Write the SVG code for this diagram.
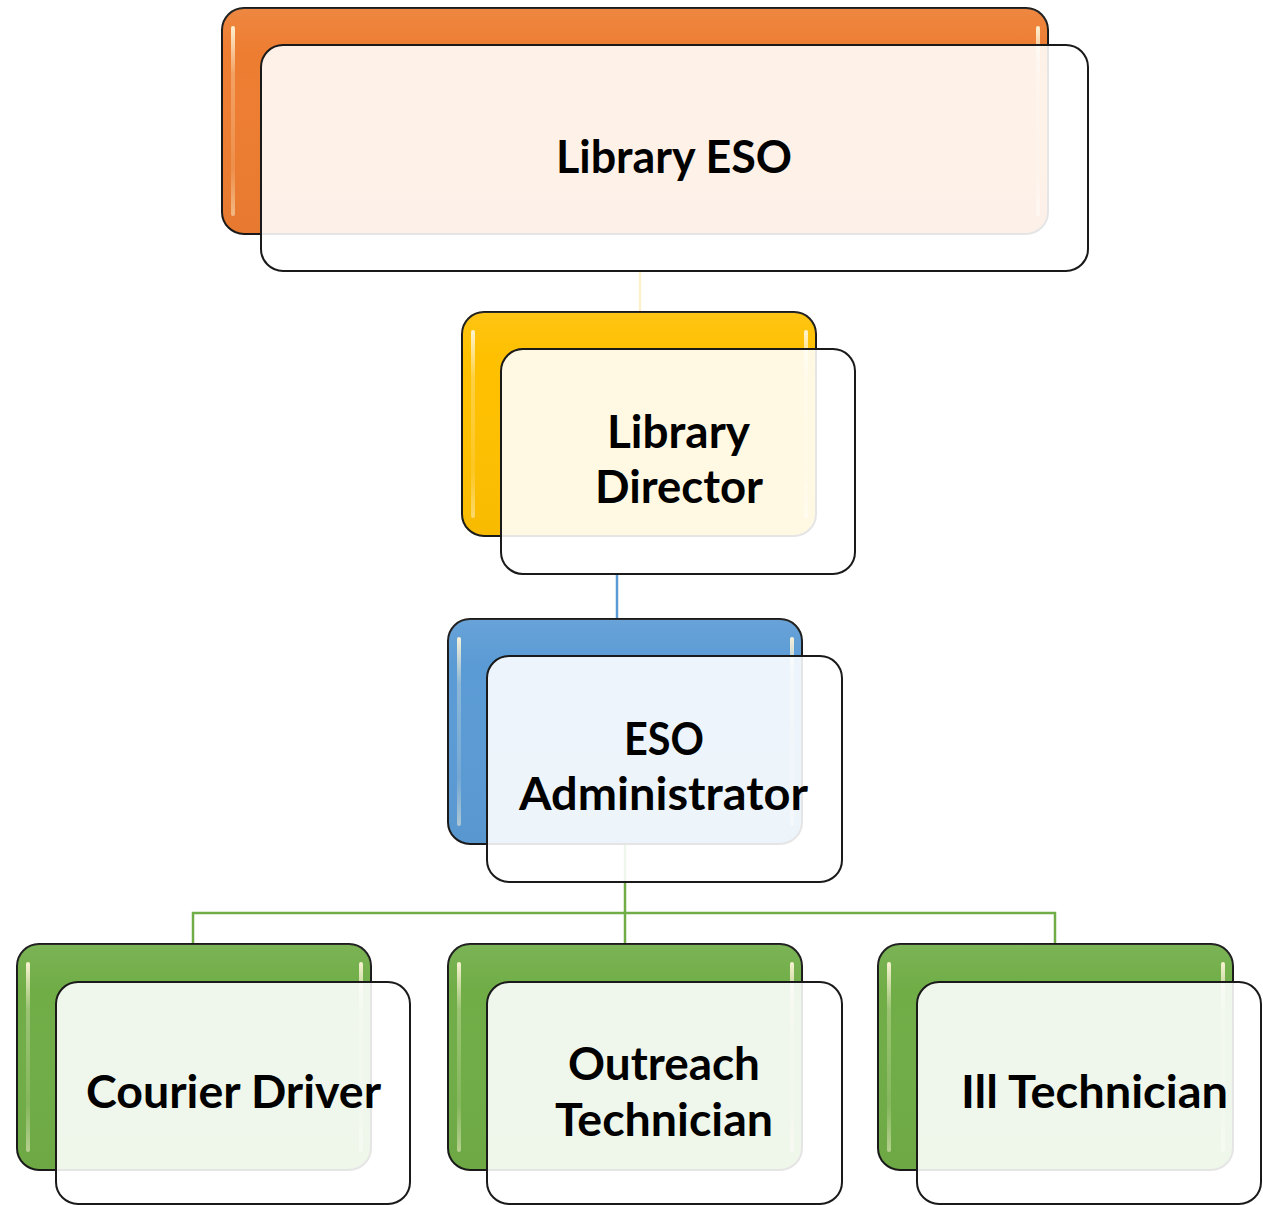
<svg xmlns="http://www.w3.org/2000/svg" width="1263" height="1205" viewBox="0 0 1263 1205">
  <defs>
    <linearGradient id="gloss" x1="0" y1="0" x2="0" y2="1">
      <stop offset="0" stop-color="#fff6d8" stop-opacity="0.95"/>
      <stop offset="0.25" stop-color="#fff6d8" stop-opacity="0.3"/>
      <stop offset="0.75" stop-color="#fff6d8" stop-opacity="0.15"/>
      <stop offset="1" stop-color="#fff6d8" stop-opacity="0.5"/>
    </linearGradient>
    <linearGradient id="shade" x1="0" y1="0" x2="0" y2="1">
      <stop offset="0" stop-color="#ffffff" stop-opacity="0.08"/>
      <stop offset="0.2" stop-color="#ffffff" stop-opacity="0"/>
      <stop offset="1" stop-color="#000000" stop-opacity="0.03"/>
    </linearGradient>
  </defs>
  <style>
    .back { stroke: #1a1a1a; stroke-width: 2; }
    .sheen { fill: url(#shade); stroke: none; }
    .front { fill: #ffffff; fill-opacity: 0.89; stroke: #1a1a1a; stroke-width: 2; }
    .hl { fill: url(#gloss); stroke: none; }
    .lbl { font-family: Lato, "Liberation Sans", sans-serif; font-weight: 700; font-size: 45px; fill: #000000; text-anchor: middle; }
    .conn { fill: none; stroke-width: 2.5; }
  </style>

  <rect width="1263" height="1205" fill="#ffffff"/>

  <!-- connectors sit beneath the boxes -->
  <g id="connectors">
    <line class="conn" x1="640" y1="271" x2="640" y2="312" stroke="#fdf0cc"/>
    <line class="conn" x1="617" y1="575" x2="617" y2="619" stroke="#5b9bd5"/>
    <path class="conn" d="M625 844 V944 M193 944 V913 H1055 V944" stroke="#70ad47"/>
  </g>

  <g id="node-library-eso">
    <rect class="back" x="222" y="8" width="826" height="226" rx="22" fill="#ed7d31"/>
    <rect class="sheen" x="222" y="8" width="826" height="226" rx="22"/>
    <rect class="hl" x="231" y="26" width="4" height="190" rx="2"/>
    <rect class="hl" x="1036" y="26" width="4" height="190" rx="2"/>
    <rect class="front" x="261" y="45" width="827" height="226" rx="22"/>
    <text class="lbl" x="674" y="173" textLength="236" lengthAdjust="spacingAndGlyphs">Library ESO</text>
  </g>

  <g id="node-library-director">
    <rect class="back" x="462" y="312" width="354" height="224" rx="22" fill="#ffc000"/>
    <rect class="sheen" x="462" y="312" width="354" height="224" rx="22"/>
    <rect class="hl" x="471" y="330" width="4" height="188" rx="2"/>
    <rect class="hl" x="804" y="330" width="4" height="188" rx="2"/>
    <rect class="front" x="501" y="349" width="354" height="225" rx="22"/>
    <text class="lbl" x="678.5" y="448" textLength="143" lengthAdjust="spacingAndGlyphs">Library</text>
    <text class="lbl" x="679" y="503" textLength="168" lengthAdjust="spacingAndGlyphs">Director</text>
  </g>

  <g id="node-eso-administrator">
    <rect class="back" x="448" y="619" width="354" height="225" rx="22" fill="#5b9bd5"/>
    <rect class="sheen" x="448" y="619" width="354" height="225" rx="22"/>
    <rect class="hl" x="457" y="637" width="4" height="189" rx="2"/>
    <rect class="hl" x="790" y="637" width="4" height="189" rx="2"/>
    <rect class="front" x="487" y="656" width="355" height="226" rx="22"/>
    <text class="lbl" x="664" y="755" textLength="80" lengthAdjust="spacingAndGlyphs">ESO</text>
    <text class="lbl" x="663.5" y="810" textLength="289" lengthAdjust="spacingAndGlyphs">Administrator</text>
  </g>

  <g id="node-courier-driver">
    <rect class="back" x="17" y="944" width="354" height="226" rx="22" fill="#70ad47"/>
    <rect class="sheen" x="17" y="944" width="354" height="226" rx="22"/>
    <rect class="hl" x="26" y="962" width="4" height="190" rx="2"/>
    <rect class="hl" x="359" y="962" width="4" height="190" rx="2"/>
    <rect class="front" x="56" y="982" width="354" height="222" rx="22"/>
    <text class="lbl" x="233.5" y="1108" textLength="295" lengthAdjust="spacingAndGlyphs">Courier Driver</text>
  </g>

  <g id="node-outreach-technician">
    <rect class="back" x="448" y="944" width="354" height="226" rx="22" fill="#70ad47"/>
    <rect class="sheen" x="448" y="944" width="354" height="226" rx="22"/>
    <rect class="hl" x="457" y="962" width="4" height="190" rx="2"/>
    <rect class="hl" x="790" y="962" width="4" height="190" rx="2"/>
    <rect class="front" x="487" y="982" width="355" height="222" rx="22"/>
    <text class="lbl" x="664" y="1080" textLength="192" lengthAdjust="spacingAndGlyphs">Outreach</text>
    <text class="lbl" x="664" y="1136" textLength="218" lengthAdjust="spacingAndGlyphs">Technician</text>
  </g>

  <g id="node-ill-technician">
    <rect class="back" x="878" y="944" width="355" height="226" rx="22" fill="#70ad47"/>
    <rect class="sheen" x="878" y="944" width="355" height="226" rx="22"/>
    <rect class="hl" x="887" y="962" width="4" height="190" rx="2"/>
    <rect class="hl" x="1221" y="962" width="4" height="190" rx="2"/>
    <rect class="front" x="917" y="982" width="344" height="222" rx="22"/>
    <text class="lbl" x="1094.5" y="1108" textLength="267" lengthAdjust="spacingAndGlyphs">Ill Technician</text>
  </g>
</svg>
